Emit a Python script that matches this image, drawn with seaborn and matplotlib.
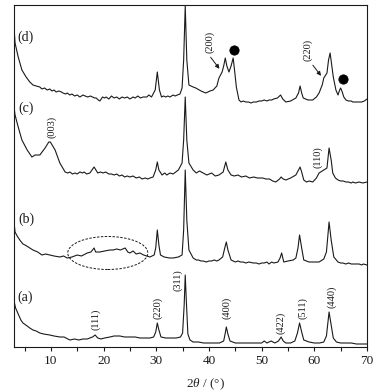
import numpy as np
import pandas as pd
import matplotlib
matplotlib.use("Agg")
import matplotlib.pyplot as plt
from matplotlib.patches import Ellipse
import seaborn as sns

# ---------------- data (2theta in degrees, intensity in a.u.) ----------------
tt_a = [3.0, 3.3, 3.8, 4.3, 4.7, 5.5, 6.0, 6.6, 7.2, 7.9, 8.6, 9.8, 10.6, 11.7, 12.5,
        13.6, 14.5, 15.3, 16.1, 16.9, 17.4, 17.9, 18.4, 18.9, 19.5, 20.2, 21.2, 22.0,
        23.1, 24.0, 25.0, 26.0, 26.9, 27.8, 28.8, 29.5, 29.9, 30.2, 30.5, 30.9, 31.8,
        32.8, 33.8, 34.6, 35.0, 35.3, 35.5, 35.7, 36.0, 36.4, 37.0, 38.0, 39.0, 40.0,
        41.0, 42.0, 42.8, 43.1, 43.3, 43.6, 44.0, 45.0, 46.0, 47.0, 48.0, 49.0, 50.0,
        50.5, 51.0, 51.8, 52.5, 53.2, 53.7, 54.1, 54.6, 55.5, 56.3, 56.8, 57.2, 57.6,
        58.0, 59.0, 60.0, 61.0, 61.8, 62.3, 62.8, 63.2, 63.6, 64.2, 65.0, 66.0, 67.0,
        68.0, 69.0, 70.0]
int_a = [46, 39, 33, 27, 24, 21, 19, 17, 16, 14, 13, 12, 11, 10, 10,
         7, 8, 7, 8, 8, 9, 10, 12, 9, 8, 9, 10, 11,
         11, 10, 10, 10, 9, 9, 9, 10, 15, 24, 17, 10, 9,
         9, 9, 10, 14, 42, 72, 47, 13, 7, 5, 5, 4, 4,
         4, 4, 6, 14, 20, 13, 6, 4, 4, 4, 4, 4, 4,
         6, 4, 6, 4, 6, 10, 6, 4, 4, 6, 14, 24, 15,
         7, 5, 4, 4, 5, 11, 35, 22, 9, 5, 4, 4, 4,
         3, 3, 3]

tt_b = [3.0, 3.2, 3.6, 4.1, 4.7, 5.1, 6.0, 6.6, 7.5, 8.3,
        9.0, 9.8, 10.6, 11.7, 12.4, 13.1, 14.0, 15.0, 15.8, 16.9,
        17.6, 18.2, 18.5, 19.3, 20.2, 21.2, 21.8, 22.5, 23.2, 24.1,
        24.6, 25.0, 25.6, 26.2, 26.9, 27.6, 28.2, 28.8, 29.6, 29.9,
        30.2, 30.5, 30.8, 31.5, 32.5, 33.2, 34.2, 34.9, 35.2, 35.5,
        35.8, 36.2, 37.0, 37.6, 38.0, 38.5, 38.9, 39.5, 40.0, 40.5,
        41.0, 41.5, 41.9, 42.6, 43.0, 43.3, 43.6, 44.2, 45.0, 45.5,
        46.0, 46.5, 47.0, 47.6, 48.4, 49.0, 49.5, 50.0, 50.5, 51.0,
        51.4, 51.9, 52.3, 53.1, 53.5, 53.8, 54.2, 55.0, 56.0, 56.5,
        56.9, 57.2, 57.6, 58.0, 59.0, 60.0, 60.9, 61.8, 62.3, 62.8,
        63.2, 63.7, 64.5, 65.0, 65.4, 66.0, 66.5, 67.0, 67.3, 67.8,
        68.5, 69.0, 69.3, 70.0]
int_b = [125, 115, 111, 107, 103, 102, 99, 97, 95, 92,
         93, 92, 91, 90, 91, 89, 90, 92, 91, 94,
         95, 99, 95, 95, 96, 97, 97, 98, 97, 99,
         95, 94, 96, 93, 94, 92, 91, 90, 92, 99,
         117, 102, 92, 90, 89, 89, 90, 92, 117, 177,
         127, 97, 89, 87, 87, 86, 86, 85, 86, 86,
         87, 86, 87, 90, 99, 105, 97, 87, 85, 86,
         85, 85, 84, 85, 84, 84, 83, 84, 84, 85,
         83, 85, 84, 85, 89, 94, 85, 86, 87, 89,
         99, 112, 99, 87, 85, 85, 85, 88, 95, 125,
         107, 90, 85, 84, 84, 83, 84, 83, 83, 83,
         83, 82, 83, 82]

tt_c = [3.0, 3.2, 3.8, 4.5, 5.5, 6.4, 7.0, 7.9, 8.9, 9.6,
        9.9, 10.8, 11.7, 12.7, 13.2, 13.6, 14.1, 14.6, 15.0, 15.5,
        16.0, 16.3, 16.8, 17.4, 18.2, 18.9, 19.4, 19.9, 20.4, 21.0,
        21.5, 22.0, 22.5, 23.0, 23.5, 24.0, 24.5, 25.0, 25.6, 26.2,
        26.8, 27.3, 27.9, 28.4, 28.8, 29.4, 29.9, 30.2, 30.5, 31.1,
        31.6, 32.0, 32.6, 33.2, 33.7, 34.2, 34.9, 35.2, 35.5, 35.8,
        36.2, 37.0, 37.6, 38.2, 38.9, 39.6, 40.5, 41.2, 41.9, 42.7,
        43.2, 43.6, 44.2, 44.8, 45.5, 46.2, 47.0, 47.7, 48.5, 49.2,
        50.2, 50.8, 51.5, 52.1, 52.7, 53.4, 53.7, 54.1, 54.6, 55.5,
        56.5, 57.0, 57.3, 57.6, 58.0, 58.5, 59.0, 59.7, 60.4, 60.9,
        61.8, 62.4, 62.8, 63.2, 63.5, 64.0, 64.5, 65.0, 65.5, 66.0,
        66.5, 67.0, 67.3, 67.8, 68.5, 69.2, 70.0]
int_c = [240, 232, 220, 207, 197, 190, 192, 192, 199, 205,
         205, 197, 184, 175, 174, 175, 173, 174, 173, 175,
         174, 175, 173, 174, 180, 174, 175, 174, 175, 173,
         173, 172, 173, 171, 172, 170, 171, 170, 171, 169,
         170, 168, 169, 168, 169, 170, 177, 185, 177, 172,
         174, 172, 174, 173, 175, 177, 184, 207, 250, 207,
         184, 177, 174, 176, 174, 172, 174, 171, 172, 175,
         185, 177, 172, 171, 172, 170, 171, 169, 170, 169,
         169, 168, 168, 166, 165, 168, 170, 168, 167, 169,
         172, 177, 180, 175, 167, 165, 166, 165, 169, 174,
         177, 179, 199, 187, 174, 169, 167, 166, 166, 165,
         165, 164, 165, 164, 165, 164, 165]

tt_d = [3.0, 3.2, 3.8, 4.5, 5.3, 6.0, 6.6, 7.2, 7.9, 8.3,
        8.8, 9.3, 9.8, 10.2, 10.6, 11.0, 11.5, 12.0, 12.3, 12.8,
        13.1, 13.6, 14.0, 14.5, 15.0, 15.5, 16.1, 16.5, 17.0, 17.5,
        17.9, 18.3, 18.6, 19.0, 19.3, 19.8, 20.2, 20.5, 21.0, 21.5,
        22.0, 22.5, 23.0, 23.5, 24.0, 24.5, 25.0, 25.6, 26.0, 26.5,
        27.0, 27.5, 28.2, 28.6, 29.1, 29.8, 30.2, 30.6, 31.0, 31.4,
        31.8, 32.2, 32.6, 33.2, 33.6, 34.0, 34.5, 34.9, 35.2, 35.5,
        35.8, 36.2, 37.0, 37.5, 38.5, 39.4, 40.2, 40.8, 41.5, 41.9,
        42.5, 42.8, 43.1, 43.4, 43.8, 44.2, 44.6, 44.9, 45.2, 45.7,
        46.1, 46.5, 47.0, 47.5, 48.0, 48.4, 49.0, 49.5, 50.0, 50.5,
        51.0, 51.4, 51.9, 52.3, 53.0, 53.6, 54.0, 54.6, 55.5, 56.5,
        57.0, 57.3, 57.6, 57.9, 58.8, 59.7, 60.4, 60.9, 61.5, 61.8,
        62.4, 62.7, 63.0, 63.3, 63.6, 64.1, 64.5, 64.8, 65.0, 65.3,
        65.6, 66.0, 66.5, 67.0, 67.3, 67.8, 68.5, 69.0, 69.5, 70.0]
int_d = [320, 304, 290, 277, 270, 265, 262, 261, 260, 258,
         259, 257, 258, 256, 257, 255, 256, 255, 254, 253,
         254, 252, 253, 251, 252, 250, 252, 251, 250, 251,
         250, 249, 249, 247, 246, 250, 249, 250, 248, 251,
         249, 250, 248, 250, 249, 250, 248, 250, 249, 251,
         249, 250, 250, 252, 250, 257, 275, 257, 250, 251,
         250, 251, 250, 252, 251, 252, 253, 259, 287, 341,
         287, 262, 260, 259, 256, 254, 256, 257, 261, 269,
         275, 281, 289, 281, 275, 281, 289, 275, 260, 247,
         245, 246, 245, 245, 244, 245, 245, 246, 246, 247,
         246, 247, 247, 248, 249, 252, 248, 245, 246, 249,
         254, 261, 254, 249, 247, 247, 250, 254, 262, 269,
         274, 287, 294, 282, 270, 257, 252, 257, 259, 255,
         250, 247, 246, 246, 245, 245, 245, 245, 246, 248]

sample_names = ["(a)", "(b)", "(c)", "(d)"]
name_pos = [(5.1, 50), (5.3, 128), (5.3, 239), (5.1, 310)]

peak_labels = ["(111)", "(220)", "(311)", "(400)", "(422)", "(511)", "(440)",
               "(003)", "(110)", "(200)", "(220)"]
peak_label_pos = [(18.6, 28), (30.3, 39), (34.1, 67), (43.4, 39), (53.7, 24),
                  (57.8, 39), (63.3, 50), (10.2, 220), (60.7, 190), (40.2, 305),
                  (58.8, 297)]
arrow_from = [(40.0, 292), (59.4, 284)]
arrow_to = [(42.3, 276), (61.6, 269)]
dot_pos_tt = [44.7, 65.4]
dot_pos_int = [297, 268]
ellipse_center = (20.8, 94)
ellipse_size = (15.2, 33)

x_ticks = [10, 20, 30, 40, 50, 60, 70]

# ---------------- styling ----------------
sns.set_theme(style="ticks")
plt.rcParams["font.family"] = ["Liberation Serif", "DejaVu Serif"]
plt.rcParams["mathtext.fontset"] = "custom"
plt.rcParams["mathtext.rm"] = "Liberation Serif"
plt.rcParams["mathtext.it"] = "Liberation Serif:italic"

fig = plt.figure(figsize=(3.86, 3.91), dpi=100)
ax = fig.add_axes([14 / 386, 44 / 391, 353 / 386, 342 / 391])

frames = []
for name, tt, inten in [("a", tt_a, int_a), ("b", tt_b, int_b),
                        ("c", tt_c, int_c), ("d", tt_d, int_d)]:
    frames.append(pd.DataFrame({"tt": tt, "I": inten, "sample": name}))
df = pd.concat(frames, ignore_index=True)

line_color = "#1a1a1a"
sns.lineplot(data=df, x="tt", y="I", hue="sample", units="sample", estimator=None,
             sort=False, palette=[line_color] * 4, linewidth=0.8, legend=False, ax=ax)

ax.set_xlim(3, 70)
ax.set_ylim(0, 342)
ax.set_yticks([])
ax.set_ylabel("")
ax.set_xticks(x_ticks)
ax.set_xticklabels([str(t) for t in x_ticks])
ax.set_xticks(np.arange(5, 70, 10), minor=True)
ax.tick_params(axis="x", which="both", direction="out", length=3, width=0.8,
               labelsize=9.5, pad=3, colors="#1a1a1a")
for s in ax.spines.values():
    s.set_visible(True)
    s.set_linewidth(0.8)
    s.set_color("#1a1a1a")

ax.set_xlabel(r"$2\theta$ / (°)", fontsize=9.5)
ax.xaxis.set_label_coords((206 - 14) / 353, -0.085)

for name, (x, y) in zip(sample_names, name_pos):
    ax.text(x, y, name, fontsize=10, ha="center", va="center", color="#1a1a1a")

for lab, (x, y) in zip(peak_labels, peak_label_pos):
    ax.text(x, y, lab, fontsize=7.5, rotation=90, ha="center", va="center",
            color="#1a1a1a")

for p0, p1 in zip(arrow_from, arrow_to):
    ax.annotate("", xy=p1, xytext=p0,
                arrowprops=dict(arrowstyle="-|>", color="#1a1a1a", lw=0.7,
                                mutation_scale=6))

sns.scatterplot(x=dot_pos_tt, y=dot_pos_int, color="black", s=45, edgecolor="black",
                ax=ax, legend=False)

ax.add_patch(Ellipse(ellipse_center, ellipse_size[0], ellipse_size[1], fill=False,
                     linestyle=(0, (2.5, 1.5)), linewidth=0.7, edgecolor="#1a1a1a"))

fig.savefig("out.png", dpi=100)
